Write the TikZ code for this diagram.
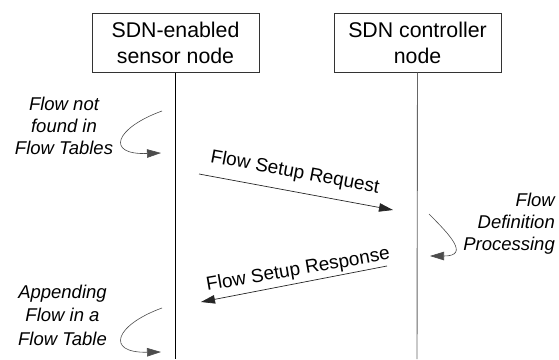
\documentclass[tikz,border=0pt]{standalone}
\usepackage{fontspec}
\setmainfont{Liberation Sans}
\usetikzlibrary{arrows.meta}
\begin{document}
\begin{tikzpicture}[x=1pt,y=-1pt,
  actor/.style={draw=black!80, line width=1pt, minimum width=167pt, minimum height=59pt, inner sep=0pt, align=center, font=\fontsize{21.3}{26}\selectfont},
  lifeline/.style={line width=0.9pt},
  msg/.style={draw=black!85, line width=0.7pt, -{Triangle[length=14pt,width=8.5pt]}},
  selfmsg/.style={draw=black!70, line width=0.6pt, -{Triangle[length=14pt,width=8.5pt]}},
  note/.style={inner sep=0pt, font=\fontsize{18.5}{22}\selectfont\itshape},
  msglabel/.style={inner sep=0pt, anchor=base, font=\fontsize{19}{22}\selectfont}]
\useasboundingbox (0,0) rectangle (559,359);
\node[actor] (sensor) at (175.5,42.5) {SDN-enabled\\sensor node};
\node[actor] (ctrl) at (417.5,42.5) {SDN controller\\node};
\coordinate (sensorEnd) at (175.5,359);
\coordinate (ctrlEnd) at (417,359);
\draw[lifeline] (sensor.south) -- (sensorEnd);
\draw[lifeline, black!60] (ctrl.south) -- (ctrlEnd);
% notes
\node[note, anchor=north, align=center] (n1) at (64,96.5) {Flow not\\found in\\Flow Tables};
\node[note, anchor=north east, align=right] (n2) at (555,192.5) {Flow\\Definition\\Processing};
\node[note, anchor=north, align=center, font=\fontsize{18.5}{23.3}\selectfont\itshape] (n3) at (62.5,284.8) {Appending\\Flow in a\\Flow Table};
% self arrows
\coordinate (s1a) at (162,111);
\coordinate (s1b) at (161,153);
\draw[selfmsg] (s1a) .. controls (115,128) and (105,155) .. (s1b);
\coordinate (s2a) at (429,214);
\coordinate (s2b) at (430,256);
\draw[selfmsg] (s2a) .. controls (450,235) and (470,256) .. (s2b);
\coordinate (s3a) at (162,308);
\coordinate (s3b) at (161,352);
\draw[selfmsg] (s3a) .. controls (115,325) and (105,353) .. (s3b);
% messages
\coordinate (reqA) at (199,174);
\coordinate (reqB) at (393,210);
\draw[msg] (reqA) -- (reqB);
\coordinate (resA) at (387,266);
\coordinate (resB) at (201,302);
\draw[msg] (resA) -- (resB);
\node[msglabel, rotate=-10.5] (reqL) at (294,177.6) {Flow Setup Request};
\node[msglabel, rotate=9.8] (resL) at (299,275) {Flow Setup Response};
\end{tikzpicture}
\end{document}
